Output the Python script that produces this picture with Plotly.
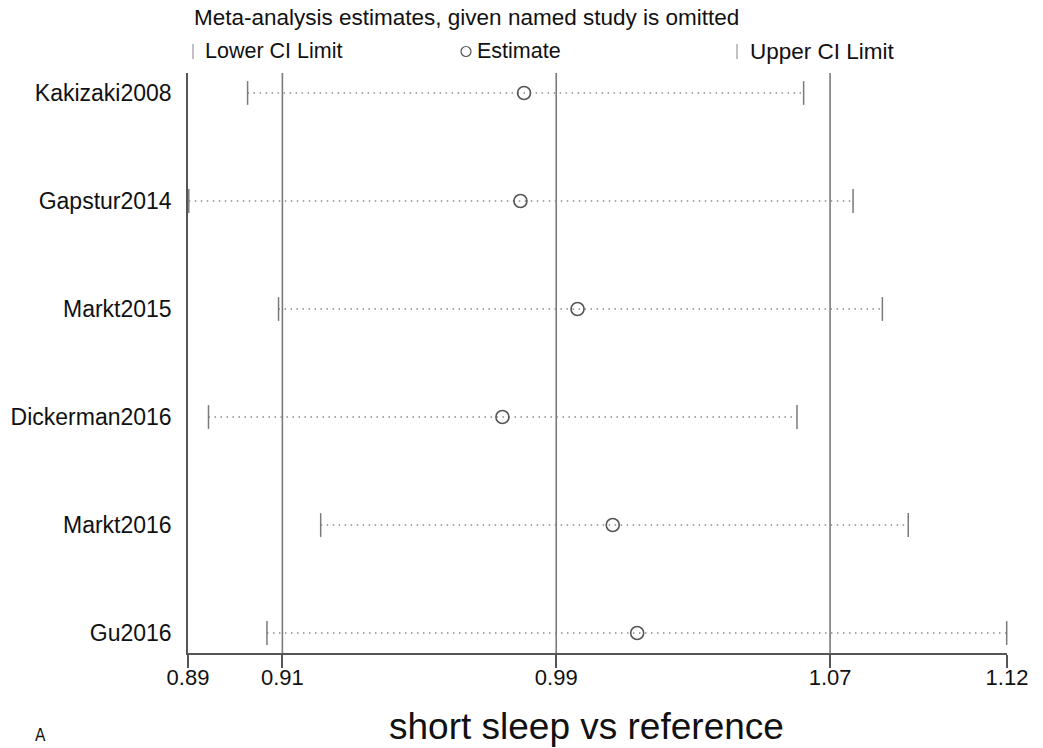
import math
import plotly.graph_objects as go

# ---- data ----
studies = ["Kakizaki2008", "Gapstur2014", "Markt2015", "Dickerman2016", "Markt2016", "Gu2016"]
estimate = [0.978, 0.977, 0.993, 0.972, 1.003, 1.010]
lower_ci = [0.904, 0.889, 0.912, 0.894, 0.923, 0.909]
upper_ci = [1.059, 1.074, 1.083, 1.057, 1.091, 1.122]

pooled_lower = 0.913
pooled_est = 0.987
pooled_upper = 1.067

tick_vals = [0.8888, pooled_lower, pooled_est, pooled_upper, 1.1221]
tick_text = ["0.89", "0.91", "0.99", "1.07", "1.12"]

FONT = "Liberation Sans, Arial, sans-serif"
GRAY = "#7a7a7a"
AXIS = "#555555"

# plot area in pixels
W, H = 1043, 748
L, R, T, B = 188, 1007, 73, 653
pw, ph = R - L, B - T


def px_x(px):
    return (px - L) / pw


def px_y(py):
    return (B - py) / ph


fig = go.Figure()

# dotted CI lines
for s, lo, hi in zip(studies, lower_ci, upper_ci):
    fig.add_trace(go.Scatter(
        x=[lo, hi], y=[s, s], mode="lines",
        line=dict(color="#8a8a8a", width=1.5, dash="1.5px,4.5px"),
        showlegend=False, hoverinfo="skip", cliponaxis=False))

# lower / upper bars
fig.add_trace(go.Scatter(
    x=lower_ci + upper_ci, y=studies + studies, mode="markers",
    marker=dict(symbol="line-ns-open", size=17, color=GRAY,
                line=dict(color=GRAY, width=1.5)),
    showlegend=False, cliponaxis=False))

# estimate circles
fig.add_trace(go.Scatter(
    x=estimate, y=studies, mode="markers",
    marker=dict(symbol="circle-open", size=13, color="#555555", line=dict(width=1.6)),
    showlegend=False, cliponaxis=False))

# pooled reference lines
for v in (pooled_lower, pooled_est, pooled_upper):
    fig.add_shape(type="line", xref="x", yref="paper", x0=v, x1=v, y0=0, y1=1.0,
                  line=dict(color=GRAY, width=1.6), layer="below")

# legend drawn manually
fig.add_shape(type="line", xref="paper", yref="paper",
              x0=px_x(193), x1=px_x(193), y0=px_y(44), y1=px_y(59),
              line=dict(color="#999999", width=1.2))
fig.add_shape(type="circle", xref="paper", yref="paper",
              x0=px_x(461), x1=px_x(471), y0=px_y(56.5), y1=px_y(46.5),
              line=dict(color="#555555", width=1.2))
fig.add_shape(type="line", xref="paper", yref="paper",
              x0=px_x(737), x1=px_x(737), y0=px_y(44), y1=px_y(59),
              line=dict(color="#999999", width=1.2))

ann = [
    dict(text="Meta-analysis estimates, given named study is omitted", x=px_x(192), y=px_y(18),
         xanchor="left", font=dict(size=22.5)),
    dict(text="Lower CI Limit", x=px_x(203), y=px_y(51), xanchor="left", font=dict(size=21.5)),
    dict(text="Estimate", x=px_x(475), y=px_y(51), xanchor="left", font=dict(size=21.5)),
    dict(text="Upper CI Limit", x=px_x(748), y=px_y(51), xanchor="left", font=dict(size=22.5)),
    dict(text="short sleep vs reference", x=px_x(586), y=px_y(726), xanchor="center",
         font=dict(size=37)),
    dict(text="A", x=px_x(40), y=px_y(735), xanchor="center",
         font=dict(size=17, family="DejaVu Sans Condensed, Liberation Sans Narrow, sans-serif")),
]
for a in ann:
    fig.add_annotation(xref="paper", yref="paper", yanchor="middle", showarrow=False,
                       font_color="#111111", **a)

fig.update_layout(
    width=W, height=H,
    margin=dict(l=L, r=W - R, t=T, b=H - B),
    paper_bgcolor="white", plot_bgcolor="white",
    font=dict(family=FONT, size=22, color="#111111"),
    showlegend=False,
)

fig.update_xaxes(
    type="log",
    range=[math.log10(0.8888), math.log10(1.1221)],
    tickvals=tick_vals, ticktext=tick_text,
    ticks="outside", ticklen=13, tickwidth=1.5, tickcolor=AXIS,
    showline=True, linecolor=AXIS, linewidth=1.5,
    showgrid=False, zeroline=False, ticklabelstandoff=-9,
    tickfont=dict(size=22, color="#111111"),
)
fig.update_yaxes(
    type="category", categoryorder="array", categoryarray=studies,
    range=[len(studies) - 1 + 0.185, -0.185],
    showline=True, linecolor=AXIS, linewidth=1.5,
    ticks="", ticklabelstandoff=10,
    showgrid=False, zeroline=False,
    tickfont=dict(size=23, color="#111111"),
)

fig.write_html("out.html")
